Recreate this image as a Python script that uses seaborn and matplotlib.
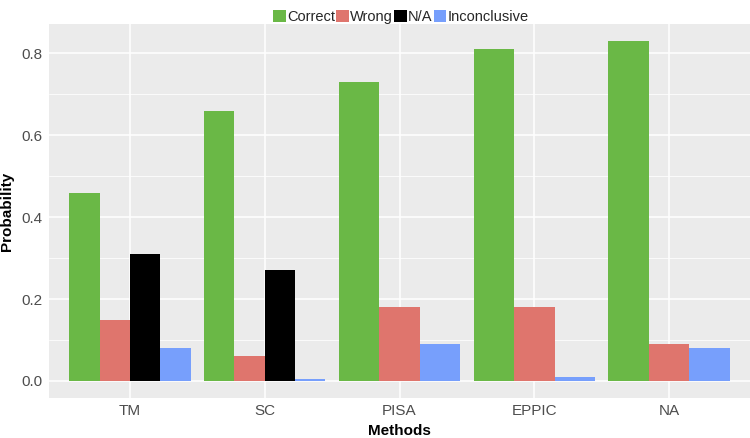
# Grouped bar chart: probability of each outcome per method (ggplot-like look)

import pandas as pd
import matplotlib.pyplot as plt
import seaborn as sns
import seaborn.objects as so
from matplotlib.patches import Patch
from matplotlib.ticker import MultipleLocator

# -----------------------------------------
# Data
# -----------------------------------------
methods = ["TM", "SC", "PISA", "EPPIC", "NA"]
outcomes = ["Correct", "Wrong", "N/A", "Inconclusive"]

correct = [0.46, 0.66, 0.73, 0.81, 0.83]
wrong = [0.15, 0.06, 0.18, 0.18, 0.09]
not_avail = [0.31, 0.27, None, None, None]   # no N/A bar for the last three
inconclusive = [0.08, 0.005, 0.09, 0.01, 0.08]

colors = {"Correct": "#6ab846", "Wrong": "#df756d", "N/A": "#000000", "Inconclusive": "#779ffc"}

rows = []
for name, vals in zip(outcomes, [correct, wrong, not_avail, inconclusive]):
    for m, v in zip(methods, vals):
        if v is not None:
            rows.append({"Methods": m, "Outcome": name, "Probability": v})
df = pd.DataFrame(rows)

# -----------------------------------------
# Figure
# -----------------------------------------
sns.set_theme(style="darkgrid")
plt.rcParams["font.family"] = ["Liberation Sans", "DejaVu Sans"]

fig = plt.figure(figsize=(7.5, 4.38), dpi=100)
ax = fig.add_axes([49 / 750, 40 / 438, 701 / 750, 374 / 438])

(
    so.Plot(df, x="Methods", y="Probability", color="Outcome")
    .add(so.Bar(width=0.9, alpha=1, edgewidth=0), so.Dodge(empty="fill"), legend=False)
    .scale(x=so.Nominal(order=methods), color=so.Nominal(colors, order=outcomes))
    .on(ax)
    .plot()
)

try:
    fig.set_layout_engine("none")
except Exception:
    pass
ax.set_position([49 / 750, 40 / 438, 701 / 750, 374 / 438])

# ggplot-like panel
ax.set_facecolor("#ebebeb")
for s in ax.spines.values():
    s.set_visible(False)
ax.set_xlim(-0.6, len(methods) - 0.4)
ax.set_ylim(-0.0415, 0.8715)
ax.yaxis.set_major_locator(MultipleLocator(0.2))
ax.yaxis.set_minor_locator(MultipleLocator(0.1))
ax.set_yticks([0, 0.2, 0.4, 0.6, 0.8])
ax.set_yticklabels(["0.0", "0.2", "0.4", "0.6", "0.8"])
ax.set_xticks(range(len(methods)))
ax.set_xticklabels(methods)
ax.grid(False)
ax.grid(True, which="major", color="white", linewidth=1.1)
ax.yaxis.grid(True, which="minor", color="white", linewidth=0.55)
ax.xaxis.grid(False, which="minor")
ax.set_axisbelow(True)
ax.tick_params(axis="both", which="major", length=3, width=0.8, color="#333333",
               labelcolor="#4d4d4d", labelsize=11, pad=1.5, direction="out")
ax.tick_params(axis="both", which="minor", length=0)

ax.set_xlabel("Methods", fontsize=11, fontweight="bold", color="black")
ax.xaxis.set_label_coords(0.5, -0.070)
ax.set_ylabel("Probability", fontsize=11, fontweight="bold", color="black")
ax.yaxis.set_label_coords(-0.050, 0.5)

# legend on top
handles = [Patch(facecolor=colors[o], edgecolor="none") for o in outcomes]
fig.legend(handles, outcomes, loc="upper center", bbox_to_anchor=(401 / 750, 1.0),
           ncol=4, frameon=False, fontsize=10.5, handlelength=0.85, handleheight=0.85,
           handletextpad=0.08, columnspacing=0.1, borderaxespad=0.3)

fig.savefig("out.png", dpi=100)
